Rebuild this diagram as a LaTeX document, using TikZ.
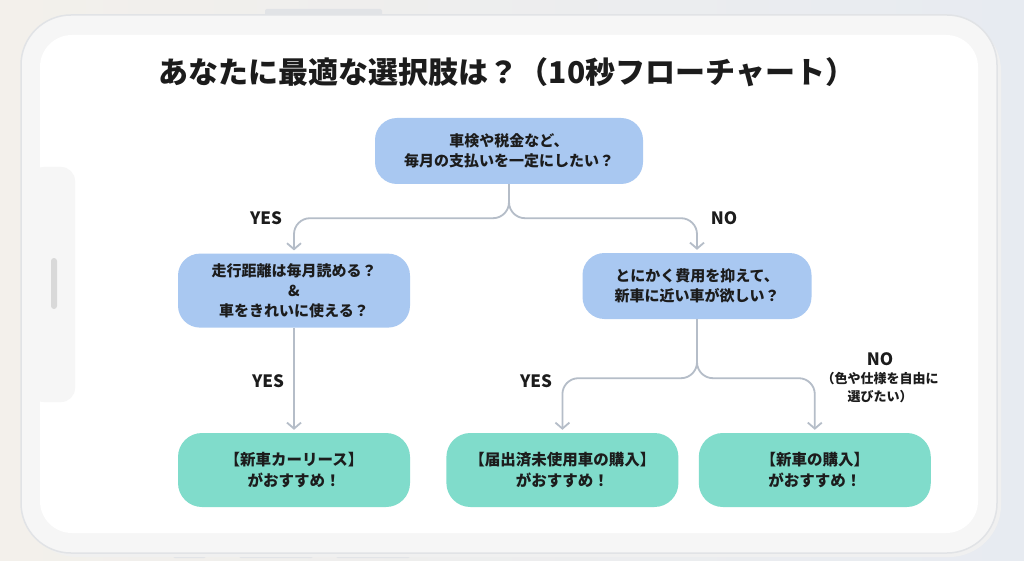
\documentclass[tikz,border=0pt]{standalone}
\usepackage{fontspec}
\setmainfont{Noto Sans CJK JP}
\usepackage{tikz}
\usetikzlibrary{arrows.meta, positioning}
\usepackage{xcolor}
\definecolor{qblue}{HTML}{A9C8F1}
\definecolor{rteal}{HTML}{80DCCB}
\definecolor{linegray}{HTML}{B5BDC8}
\definecolor{framegray}{HTML}{F6F6F6}
\definecolor{edgegray}{HTML}{E1E3E6}
\definecolor{bgwarm}{HTML}{F3F0EB}
\definecolor{bgcool}{HTML}{E7EBF1}
\definecolor{inkblack}{HTML}{1C1C1C}

\begin{document}
\begin{tikzpicture}[
  x=1pt, y=1pt,
  text=inkblack,
  % Flowchart node styles
  question/.style={
    rectangle, fill=qblue, rounded corners=22pt,
    minimum height=66pt, align=center,
    font=\fontsize{15}{20}\selectfont\bfseries
  },
  answer/.style={
    rectangle, fill=rteal, rounded corners=24pt,
    minimum height=74pt, minimum width=232pt, align=center,
    font=\fontsize{15.5}{21}\selectfont\bfseries
  },
  flow/.style={line width=1.8pt, draw=linegray, rounded corners=16pt,
    -{Straight Barb[length=6pt,width=14pt]}, shorten >=3pt},
  branch/.style={font=\fontsize{17}{20}\selectfont\bfseries},
  remark/.style={font=\fontsize{13}{18}\selectfont\bfseries, align=center}
]

% Background and phone frame
\shade[left color=bgwarm, right color=bgcool] (0,0) rectangle (1024,-561);
\useasboundingbox (0,0) rectangle (1024,-561);
\fill[edgegray, rounded corners=2pt] (265,-9) rectangle (382,-20);
\fill[edgegray, rounded corners=2pt] (173,-548) rectangle (206,-558);
\fill[edgegray, rounded corners=2pt] (239,-548) rectangle (313,-558);
\fill[edgegray, rounded corners=2pt] (336,-548) rectangle (410,-558);
\fill[black!6, rounded corners=52pt] (25,-19) rectangle (1001,-557);
\filldraw[fill=framegray, draw=edgegray, line width=1.5pt, rounded corners=50pt]
  (21,-15) rectangle (997,-553);
\fill[white, rounded corners=32pt] (40,-35) rectangle (978,-533);
\fill[framegray, rounded corners=14pt] (30,-167) rectangle (75,-402);
\fill[gray!30, rounded corners=3pt] (51,-258) rectangle (57,-309);

% Title
\node[font=\fontsize{30}{34}\selectfont\bfseries] (title) at (507,-72)
  {あなたに最適な選択肢は？（10秒フローチャート）};

% Questions and answers
\node[question, minimum width=268pt] (q1) at (509,-151)
  {車検や税金など、\\毎月の支払いを一定にしたい？};
\node[answer] (r1) at (294,-470) {【新車カーリース】\\がおすすめ！};
\node[answer, right=36pt of r1] (r2) {【届出済未使用車の購入】\\がおすすめ！};
\node[answer, right=20pt of r2] (r3) {【新車の購入】\\がおすすめ！};
\node[question, minimum width=232pt, minimum height=74pt, above=105pt of r1] (q2)
  {走行距離は毎月読める？\\\&\\車をきれいに使える？};
\node[question, minimum width=229pt] (q3) at (697,-286)
  {とにかく費用を抑えて、\\新車に近い車が欲しい？};

% Flow arrows
\draw[flow] (q1.south) -- ++(0,-34) -| (q2.north);
\draw[flow] (q1.south) -- ++(0,-34) -| (q3.north);
\draw[flow] (q2) -- (r1);
\draw[flow] (q3.south) -- ++(0,-59) -| (r2.north);
\draw[flow] (q3.south) -- ++(0,-59) -| (r3.north);

% Branch labels
\node[branch] (yes1) at (266,-218) {YES};
\node[branch] (no1) at (724,-218) {NO};
\node[branch] (yes2) at (268,-381) {YES};
\node[branch] (yes3) at (536,-381) {YES};
\node[branch] (no2) at (880,-359) {NO};
\node[remark, below=0pt of no2] (why) {（色や仕様を自由に\\選びたい）};

\end{tikzpicture}
\end{document}
